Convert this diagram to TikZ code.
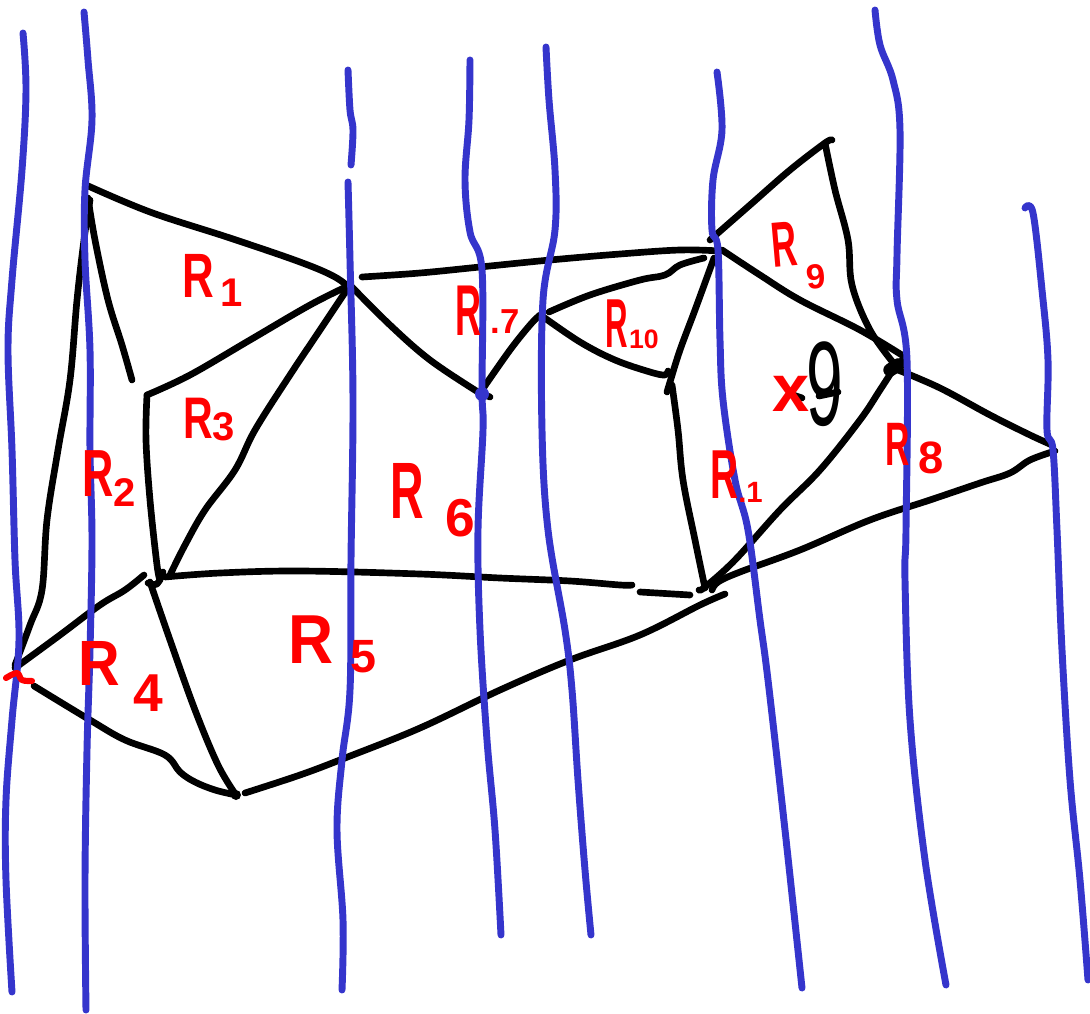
\documentclass[tikz,border=0pt]{standalone}
\usepackage{fontspec}
\setmainfont{Liberation Sans}
\usepackage{graphicx}
\definecolor{pen}{HTML}{3535CC}
\definecolor{redpen}{HTML}{FF0000}
% #1 R size, #2 R x-scale, #3 subscript size, #4 kern, #5 raise, #6 subscript
\newcommand\hwlab[6]{\bfseries\scalebox{#2}[1]{\fontsize{#1}{#1}\selectfont R}\kern#4pt\raisebox{#5pt}{\fontsize{#3}{#3}\selectfont #6}}
\tikzset{
 bluestroke/.style={draw=pen,line width=5.2pt,line cap=round,line join=round},
 blackstroke/.style={draw=black,line width=5pt,line cap=round,line join=round},
 redstroke/.style={draw=redpen,line width=4.6pt,line cap=round,line join=round},
 lab/.style={text=redpen,inner sep=0pt,anchor=base west},
 smoothpath/.style={smooth,tension=.6},
}
\begin{document}
\begin{tikzpicture}[x=0.75pt,y=-0.75pt]
\useasboundingbox (0,0) rectangle (1090,1014);
\fill[white] (0,0) rectangle (1090,1014);
% black region edges
\draw[blackstroke] plot[smoothpath] coordinates {(86,185)(150,212)(230,238)(300,262)(335,277)(352,290)};
\draw[blackstroke] plot[smoothpath] coordinates {(88,198)(95,240)(108,300)(122,345)(132,380)};
\draw[blackstroke] plot[smoothpath] coordinates {(90,200)(84,240)(77,300)(70,380)(58,450)(47,520)(42,590)(30,625)(15,665)};
\draw[blackstroke] plot[smoothpath] coordinates {(15,668)(60,635)(100,605)(125,590)(144,575)};
\draw[blackstroke] plot[smoothpath] coordinates {(34,686)(90,720)(125,740)(165,755)(180,772)(195,782)(215,790)(236,795)};
\draw[blackstroke] plot[smoothpath] coordinates {(150,582)(170,640)(195,710)(218,765)(236,795)};
\draw[blackstroke] plot[smoothpath] coordinates {(245,793)(300,775)(345,758)(420,728)(500,690)(570,660)(640,635)(700,605)(725,594)};
\draw[blackstroke] plot[smoothpath] coordinates {(147,395)(190,375)(250,340)(310,305)(350,285)};
\draw[blackstroke] plot[smoothpath] coordinates {(147,395)(146,440)(150,500)(157,565)(160,580)};
\draw[blackstroke] plot[smoothpath] coordinates {(350,285)(320,330)(290,375)(255,430)(235,470)(205,510)(185,545)(170,575)};
\draw[blackstroke] plot[smoothpath] coordinates {(148,583)(157,584)(163,572)};
\draw[blackstroke] plot[smoothpath] coordinates {(165,577)(220,573)(300,571)(420,574)(500,578)(570,581)(620,585)(632,585)};
\draw[blackstroke] plot[smoothpath] coordinates {(640,592)(690,595)};
\draw[blackstroke] plot[smoothpath] coordinates {(350,285)(390,325)(430,360)(478,392)};
\draw[blackstroke] plot[smoothpath] coordinates {(482,390)(510,350)(530,325)(540,315)};
\draw[blackstroke] (478,392) -- (490,397);
\draw[blackstroke] plot[smoothpath] coordinates {(362,277)(420,273)(480,267)(550,260)(620,254)(680,250)(720,251)};
\draw[blackstroke] plot[smoothpath] coordinates {(549,312)(590,295)(640,280)(665,275)(680,265)(704,258)};
\draw[blackstroke] plot[smoothpath] coordinates {(542,316)(580,342)(615,360)(650,372)(665,375)(668,371)};
\draw[blackstroke] plot[smoothpath] coordinates {(714,258)(695,310)(680,350)(670,382)(667,392)};
\draw[blackstroke] plot[smoothpath] coordinates {(672,385)(678,430)(683,480)(695,540)(705,588)};
\draw[blackstroke] plot[smoothpath] coordinates {(699,590)(705,587)(735,560)(780,510)(820,470)(860,420)(880,390)(898,362)};
\draw[blackstroke] plot[smoothpath] coordinates {(722,250)(760,275)(800,300)(860,330)(905,357)};
\draw[blackstroke] plot[smoothpath] coordinates {(710,240)(750,205)(790,170)(825,143)(832,140)};
\draw[blackstroke] plot[smoothpath] coordinates {(825,143)(835,190)(848,240)(852,285)(870,330)(895,365)};
\draw[blackstroke] plot[smoothpath] coordinates {(898,370)(940,388)(990,415)(1030,435)(1052,445)};
\draw[blackstroke] plot[smoothpath] coordinates {(1055,451)(1030,460)(1010,473)(980,483)(930,500)(870,520)(800,550)(740,572)(718,582)(712,590)};
\draw[black,line width=10pt,line cap=round] (890,370) -- (898,365);
\draw[blackstroke] (898,365) -- (905,357);
\fill[black] (236,795) circle[radius=5];
\draw[blackstroke] (793,395) -- (802,398);
\draw[blackstroke] (819,396) -- (838,392);
% blue lines
\draw[bluestroke] plot[smoothpath] coordinates {(23,33)(26,90)(22,170)(12,280)(8,350)(12,450)(15,560)(19,640)(12,720)(6,800)(6,880)(12,992)};
\draw[bluestroke] plot[smoothpath] coordinates {(84,12)(88,60)(92,120)(85,190)(85,260)(90,350)(90,450)(92,540)(90,650)(87,750)(85,880)(86,1010)};
\draw[bluestroke] plot[smoothpath] coordinates {(348,70)(350,110)(353,130)(351,165)};
\draw[bluestroke] plot[smoothpath] coordinates {(348,182)(350,260)(353,400)(351,560)(350,690)(342,760)(337,830)(343,920)(342,990)};
\draw[bluestroke] plot[smoothpath] coordinates {(470,60)(469,120)(465,180)(470,232)(482,270)(482,390)(483,430)(478,530)(480,630)(487,740)(495,830)(501,935)};
\draw[bluestroke] plot[smoothpath] coordinates {(546,47)(549,100)(555,170)(555,230)(543,300)(542,430)(548,530)(565,630)(572,690)(578,780)(585,870)(591,935)};
\draw[bluestroke] plot[smoothpath] coordinates {(717,72)(722,130)(713,180)(712,230)(718,250)(720,340)(723,400)(735,480)(748,530)(760,620)(768,680)(785,830)(802,988)};
\draw[bluestroke] plot[smoothpath] coordinates {(875,10)(880,45)(893,80)(900,130)(897,255)(897,300)(907,360)(906,530)(905,580)(910,720)(925,860)(946,985)};
\draw[bluestroke] plot[smoothpath] coordinates {(1025,208)(1033,213)(1042,290)(1048,360)(1047,430)(1053,450)(1057,530)(1062,650)(1070,780)(1080,880)(1088,980)};
\fill[pen] (482,394) circle[radius=7];
% red tick
\draw[redstroke] plot[smoothpath] coordinates {(6,678)(17,673)(22,680)(32,681)};
% labels
\node[lab] (r1) at (182,297) {\hwlab{47}{.7}{30}{5}{-7}{1}};
\node[lab] (r2) at (82,496) {\hwlab{50}{.65}{30}{0}{-8}{2}};
\node[lab] (r3) at (183,438) {\hwlab{44}{.7}{30}{0}{-2}{3}};
\node[lab] (r4) at (78,685) {\hwlab{48}{.9}{40}{10}{-20}{4}};
\node[lab] (r5) at (288,663) {\hwlab{52}{.9}{35}{13}{-7}{5}};
\node[lab] (r6) at (390,518) {\hwlab{60}{.58}{40}{16}{-14}{6}};
\node[lab] (r7) at (455,335) {\hwlab{54}{.5}{26}{7}{1}{.7}};
\node[lab] (r10) at (605,347) {\hwlab{52}{.45}{20}{1}{-1}{10}};
\node[lab] (r11) at (710,498) {\hwlab{52}{.56}{22}{0}{-3}{.1}};
\node[lab,rotate=5] (r9) at (773,268) {\hwlab{48}{.55}{26}{5}{-18}{9}};
\node[lab] (r8) at (885,465) {\hwlab{46}{.55}{34}{7}{-6}{8}};
\node[text=redpen,inner sep=0pt] (xm) at (791,394) {\bfseries\fontsize{50}{50}\selectfont x};
\node[text=black,inner sep=0pt,anchor=base] (nine) at (825,425) {\scalebox{.55}[1]{\fontsize{90}{90}\selectfont 9}};
\end{tikzpicture}
\end{document}
